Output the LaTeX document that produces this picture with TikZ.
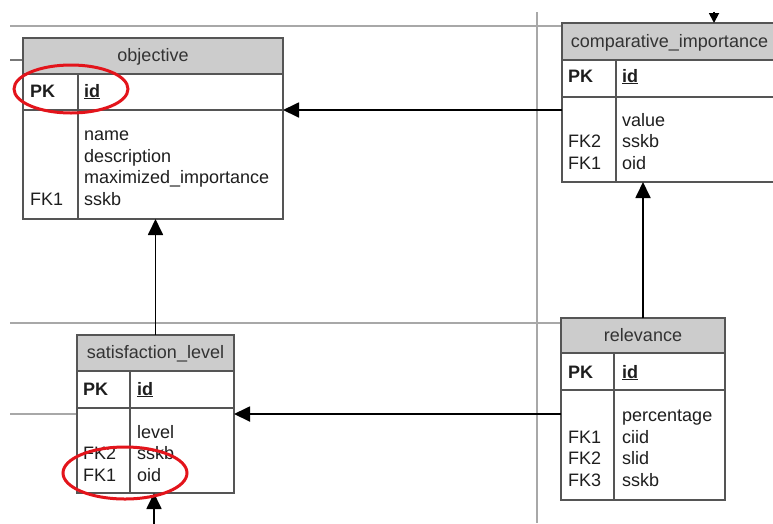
\documentclass[tikz,border=0pt]{standalone}
\usepackage{fontspec}
\setmainfont{Liberation Sans}
\usetikzlibrary{arrows.meta,fit}

\definecolor{boxline}{HTML}{555555}
\definecolor{headfill}{HTML}{CCCCCC}
\definecolor{pageline}{HTML}{A8A8A8}
\definecolor{inktext}{HTML}{1E1E1E}
\definecolor{headtext}{HTML}{333333}
\definecolor{marker}{HTML}{E3141B}

% table frame: #1 name, #2 left, #3 top, #4 right, #5 header bottom,
% #6 key row bottom, #7 bottom, #8 column divider
\newcommand\ertable[8]{%
  \fill[headfill] (#2,#3) rectangle (#4,#5);
  \draw[rule] (#2,#5) -- (#4,#5) (#2,#6) -- (#4,#6) (#8,#5) -- (#8,#7);
  \node[tablebox, fit={(#2,#3) (#4,#7)}] (#1) {};
}

\begin{document}
\begin{tikzpicture}[x=1pt,y=-1pt,
  tablebox/.style={draw=boxline, line width=1.6pt, inner sep=0pt, outer sep=0pt},
  rule/.style={draw=boxline, line width=1.6pt},
  pagebreak/.style={draw=pageline, line width=1.8pt},
  stub/.style={draw=boxline!80, line width=1.4pt},
  relation/.style={draw=black, line width=1.8pt, -{Triangle[length=16pt,width=15pt]}},
  smallrel/.style={draw=black, line width=1.8pt, -{Triangle[length=10pt,width=10pt]}},
  hdrtxt/.style={anchor=base, inner sep=0pt, text=headtext, font=\fontsize{18}{22}\selectfont},
  keytxt/.style={anchor=base west, inner sep=0pt, text=inktext, font=\fontsize{18}{22}\selectfont\bfseries},
  fieldtxt/.style={anchor=base west, inner sep=0pt, text=inktext, font=\fontsize{18}{22}\selectfont},
  hilite/.style={draw=marker, line width=3pt}
]
\clip (0,0) rectangle (773,523);
\fill[white] (0,0) rectangle (773,523);

% page boundaries of the printed model
\draw[pagebreak] (10,26) -- (562,26);
\draw[pagebreak] (537,12) -- (537,523);
\draw[pagebreak] (10,323) -- (561,323);
\draw[pagebreak] (10,414) -- (77,414);
\draw[stub] (10,60) -- (23,60);

% tables
\ertable{obj}{23}{38}{283}{74}{110}{219}{78}
\ertable{cmp}{562}{23}{777}{60}{97}{182}{616}
\ertable{sat}{77}{335}{234}{371}{408}{493}{130}
\ertable{rel}{561}{318}{725}{353}{390}{500}{614}

% objective
\node[hdrtxt] (obj-h) at (153,61) {objective};
\node[keytxt] (obj-pk) at (30,97) {PK};
\node[keytxt] (obj-id) at (84,97) {\underline{id}};
\node[fieldtxt] (obj-f1) at (84,140) {name};
\node[fieldtxt] (obj-f2) at (84,162) {description};
\node[fieldtxt] (obj-f3) at (84,183.5) {maximized\_importance};
\node[fieldtxt] (obj-f4) at (84,205) {sskb};
\node[fieldtxt] (obj-k4) at (30,205) {FK1};

% comparative_importance
\node[hdrtxt] (cmp-h) at (669.5,47) {comparative\_importance};
\node[keytxt] (cmp-pk) at (568,82) {PK};
\node[keytxt] (cmp-id) at (622,82) {\underline{id}};
\node[fieldtxt] (cmp-f1) at (622,126) {value};
\node[fieldtxt] (cmp-f2) at (622,147.5) {sskb};
\node[fieldtxt] (cmp-f3) at (622,169) {oid};
\node[fieldtxt] (cmp-k2) at (568,147.5) {FK2};
\node[fieldtxt] (cmp-k3) at (568,169) {FK1};

% satisfaction_level
\node[hdrtxt] (sat-h) at (155.5,358) {satisfaction\_level};
\node[keytxt] (sat-pk) at (83,395) {PK};
\node[keytxt] (sat-id) at (137,395) {\underline{id}};
\node[fieldtxt] (sat-f1) at (137,438) {level};
\node[fieldtxt] (sat-f2) at (137,459.5) {sskb};
\node[fieldtxt] (sat-f3) at (137,481) {oid};
\node[fieldtxt] (sat-k2) at (83,459.5) {FK2};
\node[fieldtxt] (sat-k3) at (83,481) {FK1};

% relevance
\node[hdrtxt] (rel-h) at (643,341) {relevance};
\node[keytxt] (rel-pk) at (568,378) {PK};
\node[keytxt] (rel-id) at (622,378) {\underline{id}};
\node[fieldtxt] (rel-f1) at (622,421) {percentage};
\node[fieldtxt] (rel-f2) at (622,443) {ciid};
\node[fieldtxt] (rel-f3) at (622,464.5) {slid};
\node[fieldtxt] (rel-f4) at (622,486) {sskb};
\node[fieldtxt] (rel-k2) at (568,443) {FK1};
\node[fieldtxt] (rel-k3) at (568,464.5) {FK2};
\node[fieldtxt] (rel-k4) at (568,486) {FK3};

% foreign key relations
\draw[relation] (cmp.west |- 0,110) -- (obj.east |- 0,110);
\draw[relation] (sat.north) -- (sat.north |- obj.south);
\draw[relation] (rel.north) -- (rel.north |- cmp.south);
\draw[relation] (rel.west |- 0,414) -- (sat.east |- 0,414);
\coordinate (upstream) at (714,11.5);
\draw[smallrel] (upstream) -- (upstream |- cmp.north);
\coordinate (downstream) at (154,526);
\draw[relation] (downstream) -- (downstream |- sat.south);

% highlighted keys
\draw[hilite] (71,89) ellipse [x radius=57, y radius=24];
\draw[hilite] (125,473) ellipse [x radius=62, y radius=26];
\end{tikzpicture}
\end{document}
